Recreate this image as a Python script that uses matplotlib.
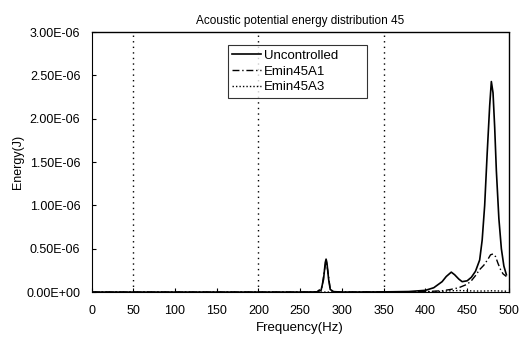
import matplotlib
matplotlib.use("Agg")
import matplotlib.pyplot as plt
from matplotlib.ticker import FuncFormatter

# frequency (Hz) / energy (uJ)
freq_unc = [0, 50, 100, 150, 200, 250, 270, 275, 278, 280, 281, 282, 284, 286, 290,
            300, 350, 380, 400, 410, 420, 425, 431, 435, 440, 444, 450, 455, 460,
            465, 468, 471, 474, 477, 479, 481, 483, 485, 488, 491, 494, 497]
e_unc = [0, 0, 0, 0, 0, 0, 0.002, 0.02, 0.15, 0.34, 0.38, 0.34, 0.15, 0.03, 0.005,
         0.0, 0.002, 0.006, 0.02, 0.05, 0.12, 0.18, 0.23, 0.20, 0.15, 0.12, 0.13, 0.17, 0.24,
         0.37, 0.6, 1.0, 1.6, 2.15, 2.43, 2.3, 1.9, 1.4, 0.85, 0.5, 0.3, 0.2]

freq_a1 = [0, 50, 100, 150, 200, 250, 270, 276, 279, 281, 283, 286, 290, 300, 350,
           400, 420, 430, 440, 450, 455, 460, 465, 470, 475, 478, 481, 484, 487, 490,
           493, 497]
e_a1 = [0, 0, 0, 0, 0, 0, 0.002, 0.05, 0.25, 0.35, 0.25, 0.03, 0.003, 0.0, 0.002,
        0.005, 0.015, 0.03, 0.05, 0.09, 0.13, 0.19, 0.26, 0.31, 0.38, 0.43, 0.44, 0.41,
        0.33, 0.26, 0.21, 0.18]

freq_a3 = [0, 100, 200, 250, 300, 350, 400, 420, 430, 440, 450, 460, 470, 480, 490, 497]
e_a3 = [0, 0, 0, 0, 0, 0, 0.003, 0.008, 0.015, 0.018, 0.015, 0.012, 0.012, 0.015,
        0.012, 0.01]

x_ticks = [0, 50, 100, 150, 200, 250, 300, 350, 400, 450, 500]
y_ticks = [0, 0.5e-6, 1.0e-6, 1.5e-6, 2.0e-6, 2.5e-6, 3.0e-6]
grid_x = [50, 200, 350]

plt.rcParams['font.family'] = ['Liberation Sans', 'DejaVu Sans']

fig = plt.figure(figsize=(5.23, 3.42), dpi=100)
ax = fig.add_axes([0.175, 0.146, 0.798, 0.76])

ax.plot(freq_unc, [v * 1e-6 for v in e_unc], color='black', lw=1.2, ls='-',
        label='Uncontrolled')
ax.plot(freq_a1, [v * 1e-6 for v in e_a1], color='black', lw=1.0, ls=(0, (5, 2, 1, 2)),
        label='Emin45A1')
ax.plot(freq_a3, [v * 1e-6 for v in e_a3], color='black', lw=1.0, ls=(0, (1, 1.5)),
        label='Emin45A3')

for gx in grid_x:
    ax.axvline(gx, color='black', lw=1.0, ls=(0, (1, 3)), zorder=0)

ax.set_xlim(0, 500)
ax.set_ylim(0, 3.0e-6)
ax.set_xticks(x_ticks)
ax.set_yticks(y_ticks)
ax.yaxis.set_major_formatter(FuncFormatter(
    lambda v, p: '0.00E+00' if v == 0 else '%.2fE%+03d' % (v / 1e-6, -6)))
ax.tick_params(direction='in', length=3, labelsize=9, pad=8)
ax.tick_params(axis='x', pad=9)

for side in ('top', 'right'):
    ax.spines[side].set_linestyle((0, (1, 1)))
    ax.spines[side].set_linewidth(1.0)

ax.set_title('Acoustic potential energy distribution 45', fontsize=8.5, pad=6)
ax.set_xlabel('Frequency(Hz)', fontsize=9.5)
ax.set_ylabel('Energy(J)', fontsize=9, labelpad=2)

leg = ax.legend(loc='upper left', bbox_to_anchor=(0.31, 0.6, 0.365, 0.375),
                mode='expand', fontsize=9.5,
                frameon=True, fancybox=False, handlelength=2.2, handletextpad=0.2,
                borderpad=0.35, labelspacing=0.25)
leg.get_frame().set_edgecolor('black')
leg.get_frame().set_linewidth(0.8)

fig.savefig('out.png', dpi=100)
